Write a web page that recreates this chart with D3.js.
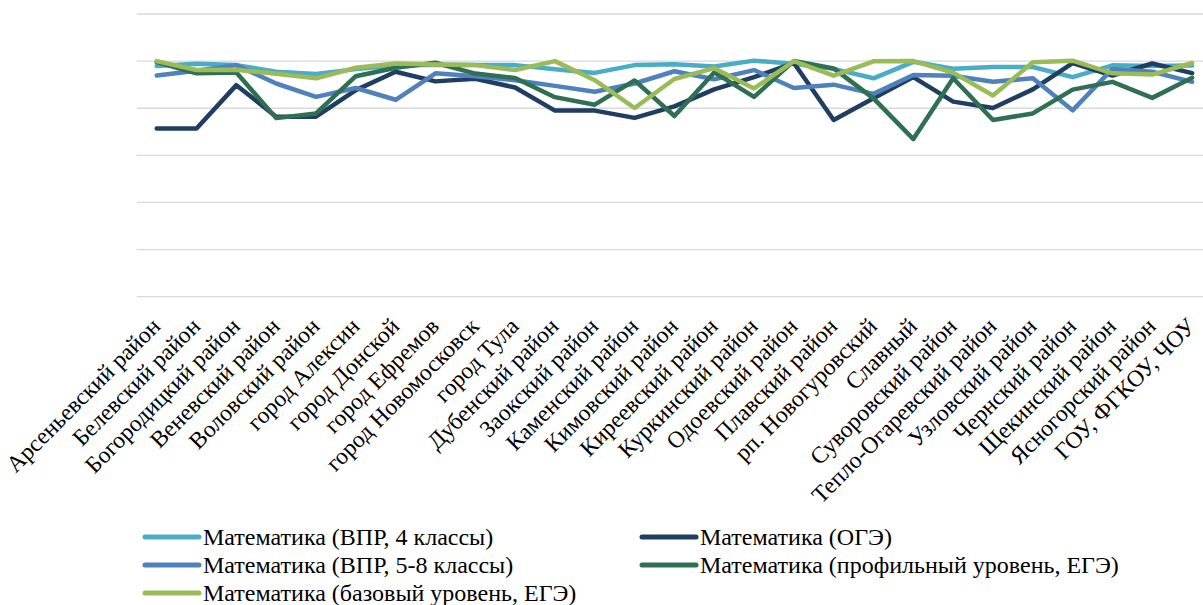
<!DOCTYPE html>
<html>
<head>
<meta charset="utf-8">
<script src="https://cdn.jsdelivr.net/npm/d3@7"></script>
<style>
  body { margin: 0; background: #fff; }
  .grid-line { stroke: #d9d9d9; stroke-width: 1.3; }
  .series-line { fill: none; stroke-width: 4.5; stroke-linejoin: round; stroke-linecap: round; }
  .cat-label, .legend-label { font-family: "Liberation Serif", "DejaVu Serif", serif; fill: #000; }
</style>
</head>
<body>
<div id="chart"></div>
<script>
// categories (districts)
const categories = [
    'Арсеньевский район', 'Белевский район', 'Богородицкий район', 'Веневский район',
    'Воловский район', 'город Алексин', 'город Донской', 'город Ефремов',
    'город Новомосковск', 'город Тула', 'Дубенский район', 'Заокский район',
    'Каменский район', 'Кимовский район', 'Киреевский район', 'Куркинский район',
    'Одоевский район', 'Плавский район', 'рп. Новогуровский', 'Славный',
    'Суворовский район', 'Тепло-Огаревский район', 'Узловский район', 'Чернский район',
    'Щекинский район', 'Ясногорский район', 'ГОУ, ФГКОУ, ЧОУ'
];

const seriesNames = [
    'Математика (ВПР, 4 классы)',
    'Математика (ОГЭ)',
    'Математика (ВПР, 5-8 классы)',
    'Математика (профильный уровень, ЕГЭ)',
    'Математика (базовый уровень, ЕГЭ)'
];

// values
const vpr4 = [97.9, 98.9, 98.3, 95.5, 94.5, 96.6, 98.1, 98.5, 98.3, 98.3, 96.5, 95.0, 98.3, 98.7,
    97.7, 100.2, 98.9, 96.7, 92.7, 99.7, 96.8, 97.5, 97.5, 93.2, 98.2, 97.9, 98.1];
const oge = [71.4, 71.4, 89.8, 76.4, 76.4, 87.7, 95.5, 91.4, 92.5, 88.8, 79.0, 79.0, 75.9, 80.8,
    88.0, 93.2, 99.2, 75.0, 84.2, 93.2, 82.8, 80.1, 88.0, 99.2, 93.9, 99.0, 94.9];
const vpr58 = [93.9, 95.9, 98.3, 90.5, 84.8, 88.6, 83.6, 94.8, 93.6, 91.9, 89.5, 87.0, 90.5, 95.7,
    92.3, 96.2, 88.6, 90.0, 86.1, 94.1, 93.8, 91.2, 92.7, 79.1, 96.7, 95.5, 91.2];
const profEge = [99.6, 94.8, 95.2, 75.8, 77.8, 93.6, 97.2, 99.3, 94.7, 92.8, 84.7, 81.5, 91.8, 76.7,
    95.2, 84.8, 100.1, 96.9, 84.2, 66.9, 92.7, 75.0, 77.8, 87.9, 91.2, 84.4, 92.9];
const baseEge = [100.0, 96.2, 96.3, 94.6, 92.7, 97.2, 99.0, 98.6, 98.3, 96.2, 100.0, 91.9, 80.1, 92.4,
    97.0, 88.4, 100.0, 93.8, 99.9, 100.0, 95.1, 85.4, 99.5, 100.2, 94.8, 94.3, 99.2];

const yTicks = [0, 20, 40, 60, 80, 100, 120];

class LineChart {
    constructor(_config) {
        this.config = {
            parentElement: _config.parentElement,
            containerWidth: 1203,
            containerHeight: 605,
            plotLeft: 136.8,
            plotRight: 1212,
            plotTop: 14,
            plotBottom: 296.7,
            colors: ['#4bacc6', '#203d62', '#4f81bd', '#2f7055', '#9bbb59'],
            labelSize: 23.5,
            legendSize: 24,
            legendRows: [537, 565, 593],
            legendCols: [145, 642]
        };
        this.series = [vpr4, oge, vpr58, profEge, baseEge];
        this.initVis();
    }

    initVis() {
        let vis = this;
        const c = vis.config;

        vis.svg = d3.select(c.parentElement).append('svg')
            .attr('width', c.containerWidth)
            .attr('height', c.containerHeight);

        vis.svg.append('rect')
            .attr('width', c.containerWidth)
            .attr('height', c.containerHeight)
            .attr('fill', '#fff');

        vis.xScale = d3.scalePoint()
            .domain(categories)
            .range([c.plotLeft, c.plotRight])
            .padding(0.5);

        vis.yScale = d3.scaleLinear()
            .domain([0, 120])
            .range([c.plotBottom, c.plotTop]);

        vis.updateVis();
    }

    updateVis() {
        let vis = this;
        vis.renderVis();
    }

    renderVis() {
        let vis = this;
        const c = vis.config;

        // horizontal gridlines
        vis.svg.selectAll('.grid-line')
            .data(yTicks)
            .join('line')
            .attr('class', 'grid-line')
            .attr('x1', c.plotLeft)
            .attr('x2', c.plotRight)
            .attr('y1', d => vis.yScale(d))
            .attr('y2', d => vis.yScale(d));

        const line = d3.line()
            .x((d, i) => vis.xScale(categories[i]))
            .y(d => vis.yScale(d));

        vis.svg.selectAll('.series-line')
            .data(vis.series)
            .join('path')
            .attr('class', 'series-line')
            .attr('stroke', (d, i) => c.colors[i])
            .attr('d', line);

        // rotated category labels
        vis.svg.selectAll('.cat-label')
            .data(categories)
            .join('text')
            .attr('class', 'cat-label')
            .attr('font-size', c.labelSize)
            .attr('text-anchor', 'end')
            .attr('transform', d => `translate(${vis.xScale(d) + 5},${c.plotBottom + 31}) rotate(-45)`)
            .text(d => d);

        // legend, filled row by row in two columns
        const legend = vis.svg.selectAll('.legend-item')
            .data(seriesNames)
            .join('g')
            .attr('class', 'legend-item')
            .attr('transform', (d, i) => `translate(${c.legendCols[i % 2]},${c.legendRows[Math.floor(i / 2)]})`);

        legend.append('line')
            .attr('x1', 0)
            .attr('x2', 54)
            .attr('stroke', (d, i) => c.colors[i])
            .attr('stroke-width', 5)
            .attr('stroke-linecap', 'round');

        legend.append('text')
            .attr('class', 'legend-label')
            .attr('x', 58)
            .attr('dy', '0.33em')
            .attr('font-size', c.legendSize)
            .text(d => d);
    }
}

new LineChart({ parentElement: '#chart' });
</script>
</body>
</html>
